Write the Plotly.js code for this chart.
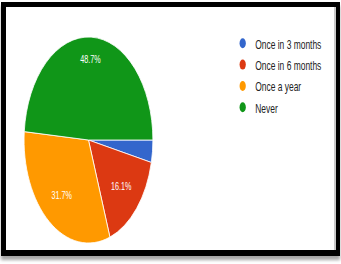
<!DOCTYPE html>
<html>
<head>
<meta charset="utf-8">
<script src="https://cdn.plot.ly/plotly-3.0.1.min.js"></script>
<style>
  html, body { margin: 0; padding: 0; background: #ffffff; overflow: hidden; width: 341px; height: 264px; }
  #plot { position: absolute; left: 0; top: 0; width: 545px; height: 264px; transform: scaleX(0.6257); transform-origin: 0 0; }
  #frame { position: absolute; left: 1px; top: 2px; width: 339px; height: 254px; box-sizing: border-box;
           border-style: solid; border-color: #000; border-width: 5px 4px 6px 5px;
           box-shadow: inset -2px 0 0 #c8c8c8, 0 4px 3px rgba(0,0,0,0.35); pointer-events: none; }
</style>
</head>
<body>
<div id="plot"></div>
<div id="frame"></div>
<script>
const categories = ['Once in 3 months', 'Once in 6 months', 'Once a year', 'Never'];
const values = [3.5, 16.1, 31.7, 48.7];
const colors = ['#3366cc', '#dc3912', '#ff9900', '#109618'];
// which slice labels are drawn, and by which label ring (0 = none, 1 = inner ring, 2 = outer ring)
const labelRing = [0, 1, 1, 2];

const fontFamily = 'Liberation Sans, Arial, sans-serif';
const pieDomain = { x: [0.0705, 0.4484], y: [0.0795, 0.8598] };

const traces = [];
// the visible pie
traces.push({
  type: 'pie',
  labels: categories,
  values: values,
  sort: false,
  direction: 'clockwise',
  rotation: 90,
  domain: pieDomain,
  marker: { colors: colors, line: { color: '#ffffff', width: 1 } },
  textinfo: 'none',
  hoverinfo: 'skip',
  showlegend: false
});
// transparent overlay rings used only to place the percentage labels
[[1, 0.36], [2, 0.57]].forEach(([ring, hole]) => {
  traces.push({
    type: 'pie',
    labels: categories,
    values: values,
    sort: false,
    direction: 'clockwise',
    rotation: 90,
    hole: hole,
    domain: pieDomain,
    marker: { colors: categories.map(() => 'rgba(0,0,0,0)'), line: { width: 0 } },
    texttemplate: labelRing.map(r => r === ring ? '%{percent:.1%}' : ''),
    textposition: 'inside',
    insidetextorientation: 'horizontal',
    textfont: { color: '#ffffff', size: 11.5, family: fontFamily },
    hoverinfo: 'skip',
    showlegend: false
  });
});
// legend entries with round markers
categories.forEach((c, i) => {
  traces.push({
    type: 'scatter',
    mode: 'markers',
    x: [null], y: [null],
    name: c,
    legendgroup: 'g' + i,
    marker: { color: colors[i], size: 10, symbol: 'circle' },
    hoverinfo: 'skip'
  });
});

const layout = {
  width: 545,
  height: 264,
  margin: { l: 0, r: 0, t: 0, b: 0 },
  paper_bgcolor: '#ffffff',
  plot_bgcolor: '#ffffff',
  xaxis: { visible: false },
  yaxis: { visible: false },
  showlegend: true,
  legend: {
    x: 0.675, xanchor: 'left',
    y: 0.894, yanchor: 'top',
    font: { family: fontFamily, size: 13.5, color: '#222222' },
    tracegroupgap: 0.8,
    bgcolor: 'rgba(0,0,0,0)'
  }
};

Plotly.newPlot('plot', traces, layout, { displayModeBar: false, staticPlot: true });
</script>
</body>
</html>
